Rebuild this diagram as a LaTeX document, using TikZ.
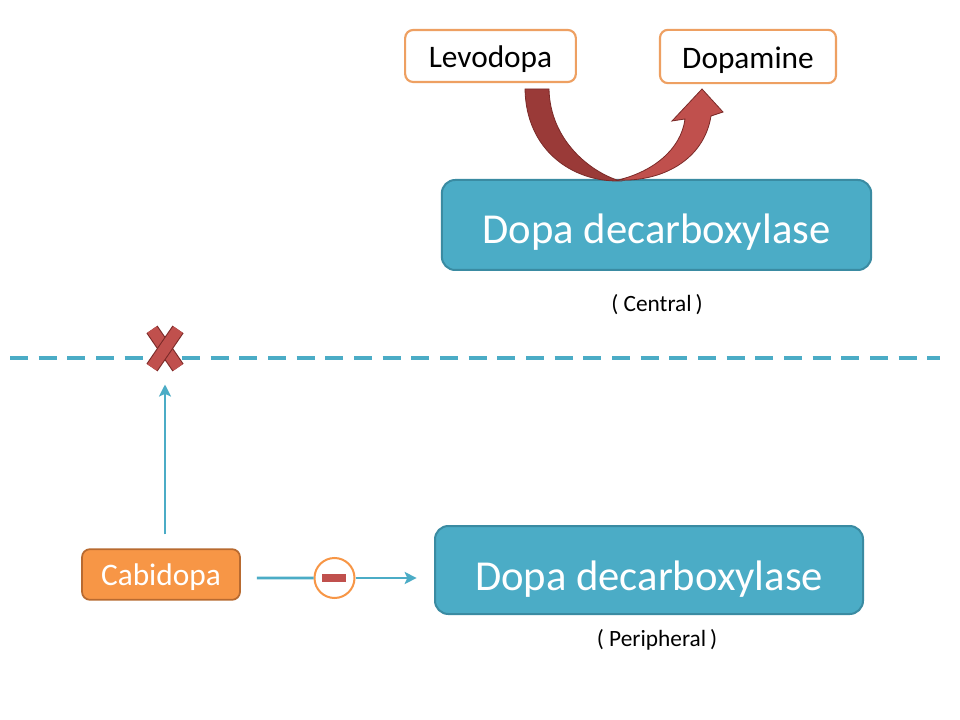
\documentclass[tikz,border=0pt]{standalone}
\usepackage{fontspec}
\setmainfont{Carlito}
\usetikzlibrary{arrows.meta}
\definecolor{teal1}{HTML}{4BACC6}
\definecolor{teal2}{HTML}{3A8BA2}
\definecolor{orfill}{HTML}{F79646}
\definecolor{orline}{HTML}{B86A30}
\definecolor{orlight}{HTML}{EEA062}
\definecolor{red1}{HTML}{C0504D}
\definecolor{red2}{HTML}{9A3A38}
\definecolor{red3}{HTML}{7A2A28}
\tikzset{
  substance/.style={draw=orlight, line width=1.6pt, fill=white, rounded corners=6pt, text=black, font=\fontsize{23.5}{26}\selectfont, inner sep=0pt, text height=17.4pt, text depth=0pt},
  enzyme/.style={draw=teal2, line width=1.5pt, fill=teal1, rounded corners=10pt, text=white, font=\fontsize{32}{36}\selectfont, inner sep=0pt, text depth=0pt},
  drug/.style={draw=orline, line width=1.3pt, fill=orfill, rounded corners=6pt, text=white, font=\fontsize{23.5}{26}\selectfont, inner sep=0pt, text height=16pt, text depth=0pt},
  note/.style={text=black, font=\fontsize{17.5}{19}\selectfont, inner sep=0pt},
  flow/.style={draw=teal1, line width=2pt, -{Stealth[length=9pt,width=9pt,inset=2pt]}},
  cross/.style={draw=red3, double=red1, double distance=8.5pt, line width=0.8pt},
}
\begin{document}
\begin{tikzpicture}[x=0.75pt,y=-0.75pt]
\useasboundingbox[fill=white] (0,0) rectangle (960,720);

% nodes
\node[substance, minimum width=128pt, minimum height=39pt] (levo) at (490.5,56) {Levodopa};
\node[substance, minimum width=132pt, minimum height=40pt] (dopa) at (748,56.5) {Dopamine};
\node[enzyme, text height=27.6pt, minimum width=322pt, minimum height=67.5pt] (central) at (656.5,225) {Dopa decarboxylase};
\node[note] (ctext) at (657,305) {( Central\,)};
\node[enzyme, text height=31pt, minimum width=321pt, minimum height=66pt] (periph) at (649,570) {Dopa decarboxylase};
\node[note] (ptext) at (657,640) {( Peripheral\,)};
\node[drug, minimum width=118.5pt, minimum height=38pt] (cab) at (161,574.5) {Cabidopa};

% curved arrow levodopa -> dopamine
\fill[red2, draw=red3, line width=0.6pt]
  (525,89) .. controls (526,150) and (572,182) .. (620,181)
  .. controls (590,172) and (550,140) .. (549,89) -- cycle;
\fill[red1, draw=red3, line width=0.6pt]
  (618,180) .. controls (652,172) and (681,150) .. (685,119)
  -- (672,121) -- (702,89) -- (723,112) -- (711,116)
  .. controls (704,160) and (662,182) .. (618,180) -- cycle;

% barrier
\draw[teal1, line width=3pt, dash pattern=on 13.5pt off 8pt] (10,358) -- (940,358);

% X mark
\coordinate (xm) at (165,348.5);
\draw[cross] ([shift={(-13,-19)}]xm) -- ([shift={(13,19)}]xm);
\draw[cross] ([shift={(13,-19)}]xm) -- ([shift={(-13,19)}]xm);

% cabidopa -> barrier
\draw[flow] ([xshift=3pt,yshift=10.5pt]cab.north) -- ([yshift=-27pt]xm);

% cabidopa -> peripheral with inhibition
\node[circle, draw=orfill, line width=1.5pt, fill=white, minimum size=30pt, inner sep=0pt] (inh) at (334.5,578) {};
\fill[red1] ([shift={(-13,-4)}]inh.center) rectangle ([shift={(11,4)}]inh.center);
\draw[teal1, line width=2pt] ([xshift=12pt,yshift=-2.6pt]cab.east) -- (inh.west);
\draw[flow] (inh.east) -- ([xshift=-13pt,yshift=-6pt]periph.west);
\end{tikzpicture}
\end{document}
